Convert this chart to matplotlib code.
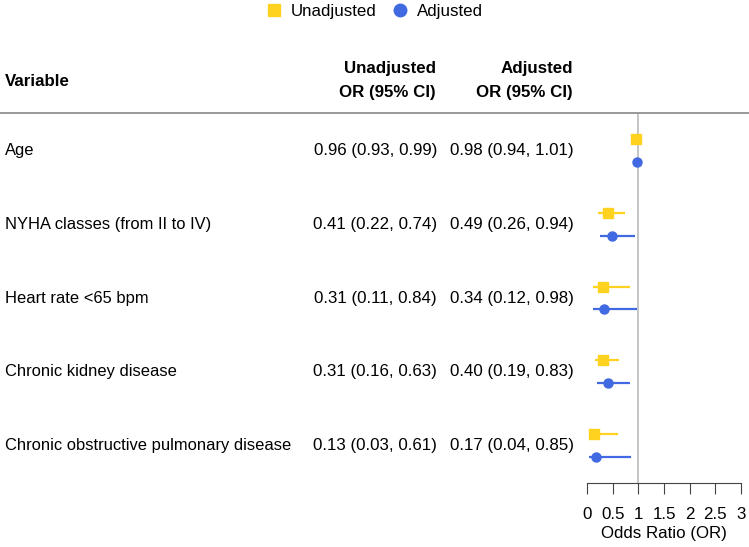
import matplotlib
matplotlib.use("Agg")
import matplotlib.pyplot as plt
from matplotlib.lines import Line2D
from matplotlib.transforms import blended_transform_factory

plt.rcParams['font.family'] = ['Liberation Sans', 'DejaVu Sans']

variables = ["Age", "NYHA classes (from II to IV)", "Heart rate <65 bpm",
             "Chronic kidney disease", "Chronic obstructive pulmonary disease"]
unadj_or = [0.96, 0.41, 0.31, 0.31, 0.13]
unadj_lo = [0.93, 0.22, 0.11, 0.16, 0.03]
unadj_hi = [0.99, 0.74, 0.84, 0.63, 0.61]
adj_or = [0.98, 0.49, 0.34, 0.40, 0.17]
adj_lo = [0.94, 0.26, 0.12, 0.19, 0.04]
adj_hi = [1.01, 0.94, 0.98, 0.83, 0.85]
x_ticks = [0, 0.5, 1, 1.5, 2, 2.5, 3]
x_ticklabels = ["0", "0.5", "1", "1.5", "2", "2.5", "3"]

yellow = "#FFD21F"
blue = "#4169E1"
fs = 12.2

W, H = 749, 547
fig = plt.figure(figsize=(W / 100, H / 100), dpi=100)
ax = fig.add_axes([587 / W, (H - 483) / H, (741 - 587) / W, (483 - 113) / H])

rows = list(range(len(variables)))
off = 0.155
ax.axvline(1, color="#BBBBBB", lw=1.2, zorder=0)
for i in rows:
    ax.plot([unadj_lo[i], unadj_hi[i]], [i - off] * 2, color=yellow, lw=1.6, solid_capstyle="butt")
    ax.plot(unadj_or[i], i - off, marker="s", ms=6.5, color=yellow, ls="none")
    ax.plot([adj_lo[i], adj_hi[i]], [i + off] * 2, color=blue, lw=1.6, solid_capstyle="butt")
    ax.plot(adj_or[i], i + off, marker="o", ms=6.5, color=blue, ls="none")

ax.set_xlim(0, 3)
ax.set_ylim(len(variables) - 0.49, -0.51)
ax.set_yticks([])
ax.set_xticks(x_ticks)
ax.set_xticklabels(x_ticklabels, fontsize=fs)
ax.tick_params(axis="x", length=8, width=0.8, color="#444444", pad=9)
for s in ["top", "left", "right"]:
    ax.spines[s].set_visible(False)
ax.spines["bottom"].set_color("#444444")
ax.spines["bottom"].set_linewidth(0.8)
ax.set_xlabel("Odds Ratio (OR)", fontsize=fs, labelpad=3)
ax.patch.set_alpha(0)

# table text
tr = blended_transform_factory(fig.transFigure, ax.transData)
for i in rows:
    ax.text(5 / W, i, variables[i], transform=tr, fontsize=11.9, va="center", ha="left")
    ax.text(437 / W, i, f"{unadj_or[i]:.2f} ({unadj_lo[i]:.2f}, {unadj_hi[i]:.2f})",
            transform=tr, fontsize=fs, va="center", ha="right")
    ax.text(574 / W, i, f"{adj_or[i]:.2f} ({adj_lo[i]:.2f}, {adj_hi[i]:.2f})",
            transform=tr, fontsize=fs, va="center", ha="right")

fig.text(5 / W, 1 - 81 / H, "Variable", fontsize=fs, fontweight="bold", va="center", ha="left")
fig.text(436 / W, 1 - 68 / H, "Unadjusted", fontsize=fs, fontweight="bold", va="center", ha="right")
fig.text(436 / W, 1 - 92 / H, "OR (95% CI)", fontsize=fs, fontweight="bold", va="center", ha="right")
fig.text(573 / W, 1 - 68 / H, "Adjusted", fontsize=fs, fontweight="bold", va="center", ha="right")
fig.text(573 / W, 1 - 92 / H, "OR (95% CI)", fontsize=fs, fontweight="bold", va="center", ha="right")

fig.add_artist(Line2D([0, 1], [1 - 113 / H] * 2, color="#888888", lw=1.2, transform=fig.transFigure))

handles = [Line2D([], [], marker="s", color=yellow, ls="none", ms=9),
           Line2D([], [], marker="o", color=blue, ls="none", ms=9)]
fig.legend(handles, ["Unadjusted", "Adjusted"], loc="upper center", bbox_to_anchor=(0.5, 1.02),
           ncol=2, frameon=False, fontsize=fs, handlelength=1, handletextpad=0.5, columnspacing=0.9)

fig.savefig("out.png", dpi=100)
